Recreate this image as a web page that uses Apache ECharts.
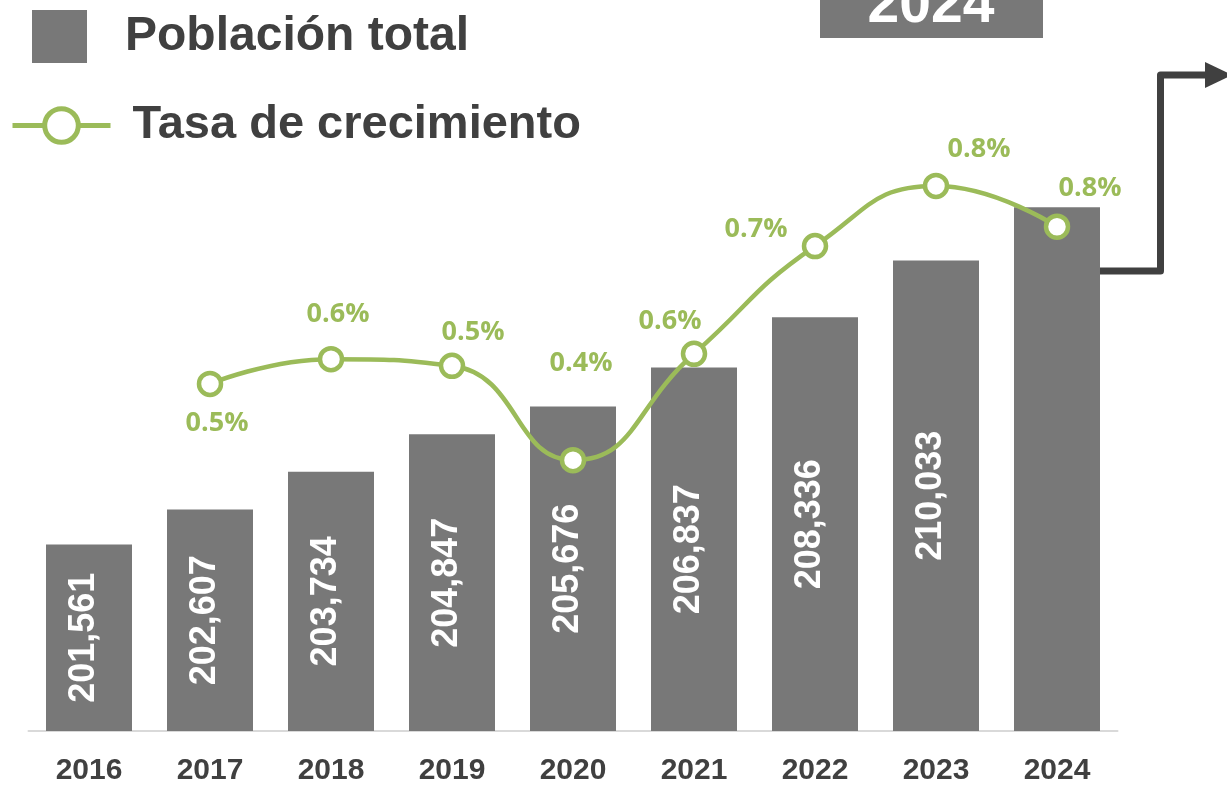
<!DOCTYPE html>
<html><head><meta charset="utf-8">
<script src="https://cdn.jsdelivr.net/npm/echarts@6/dist/echarts.min.js"></script>
<style>html,body{margin:0;padding:0;background:#fff}#chart{width:1227px;height:786px}</style>
</head><body><div id="chart"></div>
<script>
// ---- data ----
const years = ['2016', '2017', '2018', '2019', '2020', '2021', '2022', '2023', '2024'];
const population = [201561, 202607, 203734, 204847, 205676, 206837, 208336, 210033, 211620];
const growthRate = [null, 0.519, 0.556, 0.546, 0.405, 0.564, 0.725, 0.815, 0.754];
const seriesNames = ['Población total', 'Tasa de crecimiento'];
const highlightLabel = '2024';

// ---- styling ----
const GRAY = '#787878';
const GREEN = '#9BBB59';
const DARK = '#404040';
const rateLabelOffsets = [[0, 0], [7, 39], [7, -45], [21, -34], [8, -97], [-24, -32], [-59, -17], [43, -37], [33, -38]];

const fmt = v => String(v).replace(/\B(?=(\d{3})+(?!\d))/g, ',');

const barData = population.map((v, i) => i === population.length - 1 ? { value: v, label: { show: false } } : v);
const lineData = growthRate.map((v, i) => v == null ? null : { value: v, label: { offset: rateLabelOffsets[i] } });

const chart = echarts.init(document.getElementById('chart'), null, { renderer: 'canvas' });
chart.setOption({
  animation: false,
  backgroundColor: '#fff',
  grid: { left: 28.5, right: 109.5, top: 0, bottom: 52, containLabel: false },
  legend: [
    {
      data: [seriesNames[0]], left: 32, top: 10, padding: 0, selectedMode: false,
      icon: 'rect', itemWidth: 55, itemHeight: 53,
      textStyle: { fontSize: 48, fontWeight: 'bold', color: DARK, fontFamily: 'Liberation Sans', padding: [10, 0, 0, 33] }
    },
    {
      data: [seriesNames[1]], left: 10, top: 102, padding: 0, selectedMode: false,
      itemWidth: 98, itemHeight: 42,
      lineStyle: { width: 5 }, itemStyle: { borderWidth: 5 },
      textStyle: { fontSize: 47, fontWeight: 'bold', color: DARK, fontFamily: 'Liberation Sans', padding: [2, 0, 0, 17] }
    }
  ],
  xAxis: {
    type: 'category', data: years,
    axisLine: { lineStyle: { color: '#d9d9d9', width: 2 } },
    axisTick: { show: false },
    axisLabel: { fontSize: 30, fontWeight: 'bold', color: DARK, fontFamily: 'Liberation Sans', margin: 25 }
  },
  yAxis: [
    { type: 'value', min: 196000, max: 217800, show: false, splitLine: { show: false } },
    { type: 'value', min: 0, max: 1.093, show: false, splitLine: { show: false } }
  ],
  series: [
    {
      name: seriesNames[0], type: 'bar', data: barData, barWidth: 86,
      itemStyle: { color: GRAY },
      label: {
        show: true, position: 'inside', rotate: 90, offset: [0, -5],
        color: '#fff', fontSize: 36, fontWeight: 'bold', fontFamily: 'Liberation Sans',
        formatter: p => fmt(p.value)
      },
      z: 2
    },
    {
      name: seriesNames[1], type: 'line', yAxisIndex: 1, data: lineData, smooth: true,
      symbol: 'circle', symbolSize: 22,
      lineStyle: { color: GREEN, width: 4.5 },
      itemStyle: { color: '#fff', borderColor: GREEN, borderWidth: 4.5 },
      label: {
        show: true, position: 'inside',
        color: GREEN, fontSize: 27, fontWeight: 'bold', fontFamily: 'Open Sans',
        formatter: p => p.value.toFixed(1) + '%'
      },
      z: 5
    }
  ],
  graphic: [
    { type: 'rect', shape: { x: 820, y: -10, width: 223, height: 48 }, style: { fill: GRAY }, z: 10 },
    { type: 'text', x: 931, y: 6, style: { text: highlightLabel, fill: '#fff', fontSize: 57, fontWeight: 'bold', fontFamily: 'Liberation Sans', align: 'center', verticalAlign: 'middle' }, z: 11 },
    { type: 'polyline', shape: { points: [[1100, 271], [1160.5, 271], [1160.5, 75], [1208, 75]] }, style: { stroke: DARK, lineWidth: 7, lineJoin: 'round', fill: null }, z: 10 },
    { type: 'polygon', shape: { points: [[1205, 62], [1232, 75], [1205, 88]] }, style: { fill: DARK }, z: 10 }
  ]
});
</script>
</body></html>
